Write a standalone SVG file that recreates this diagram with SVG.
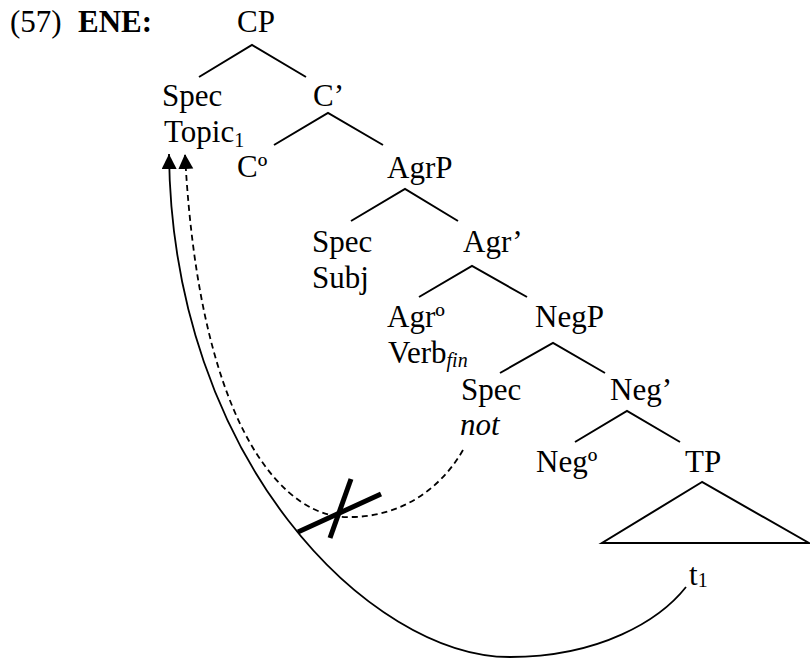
<svg xmlns="http://www.w3.org/2000/svg" width="810" height="659" viewBox="0 0 810 659">
  <style>
    text { font-family: "Liberation Serif", "Times New Roman", serif; font-size: 31px; fill: #000; }
    .b { font-weight: bold; }
    .i { font-style: italic; }
    .sub { font-size: 20px; }
    .edge { stroke: #000; stroke-width: 2; fill: none; stroke-linecap: butt; }
    .move { stroke: #000; stroke-width: 1.8; fill: none; }
    .dash { stroke-dasharray: 6 4; }
    .cross { stroke: #000; stroke-width: 5; }
  </style>
  <defs>
    <marker id="arrow" markerUnits="userSpaceOnUse" markerWidth="16" markerHeight="16" refX="15" refY="7.5" orient="auto">
      <path d="M0,0 L15,7.5 L0,15 Z" fill="#000"/>
    </marker>
  </defs>

  <g id="label">
    <text x="10" y="32">(57)</text>
    <text class="b" x="78" y="32">ENE:</text>
  </g>

  <g id="cp"><text x="237" y="32">CP</text></g>
  <g id="spec-topic">
    <text x="162" y="106">Spec</text>
    <text x="164" y="142">Topic<tspan class="sub" dy="5">1</tspan></text>
  </g>
  <g id="c-bar"><text x="313" y="106">C’</text></g>
  <g id="c-head"><text x="237" y="177">Cº</text></g>
  <g id="agrp"><text x="387" y="178">AgrP</text></g>
  <g id="spec-subj">
    <text x="312" y="252">Spec</text>
    <text x="312" y="288">Subj</text>
  </g>
  <g id="agr-bar"><text x="463" y="252">Agr’</text></g>
  <g id="agr-head">
    <text x="387" y="327">Agrº</text>
    <text x="388" y="363">Verb<tspan class="sub i" dy="4">fin</tspan></text>
  </g>
  <g id="negp"><text x="535" y="327">NegP</text></g>
  <g id="spec-not">
    <text x="461" y="400">Spec</text>
    <text class="i" x="460" y="435">not</text>
  </g>
  <g id="neg-bar"><text x="610" y="400">Neg’</text></g>
  <g id="neg-head"><text x="536" y="472">Negº</text></g>
  <g id="tp">
    <text x="685" y="472">TP</text>
    <polygon class="edge" points="702,482 602,543 809,543"/>
  </g>
  <g id="trace"><text x="689" y="585">t<tspan class="sub" dy="2">1</tspan></text></g>

  <g id="connectors">
    <!-- tree branches -->
    <path class="edge" d="M199,77 L252,45 L306,77"/>
    <path class="edge" d="M274,145 L328,113 L383,145"/>
    <path class="edge" d="M351,221 L405,189 L458,221"/>
    <path class="edge" d="M419,297 L472,266 L527,297"/>
    <path class="edge" d="M500,373 L553,343 L605,373"/>
    <path class="edge" d="M575,442 L627,411 L680,442"/>

    <!-- licit movement of the trace to Spec,CP -->
    <path class="move" marker-end="url(#arrow)" d="M686,587 C660,620 600,657 510,657 C370,657 172,460 169,154"/>
    <!-- blocked movement from Spec,NegP -->
    <path class="move dash" marker-end="url(#arrow)" d="M463,450 C440,490 400,517 350,517 C290,520 200,440 185,154"/>
    <!-- cross over the blocked path -->
    <line class="cross" x1="298" y1="532" x2="381" y2="494"/>
    <line class="cross" x1="351" y1="479" x2="330" y2="538"/>
  </g>
</svg>
